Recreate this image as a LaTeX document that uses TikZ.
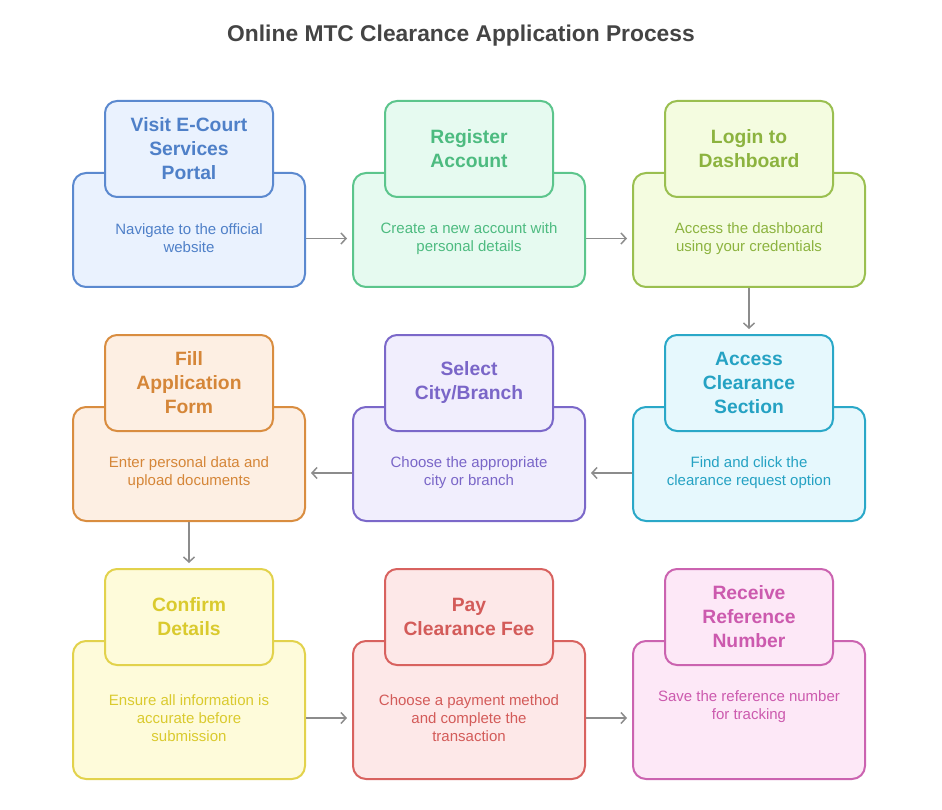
\documentclass[tikz,border=0pt]{standalone}
\usepackage{fontspec}
\setmainfont{Liberation Sans}
\usetikzlibrary{arrows.meta}
\definecolor{bS}{HTML}{5B89CF}\definecolor{bF}{HTML}{EAF2FE}\definecolor{bT}{HTML}{4F80C8}
\definecolor{gS}{HTML}{5CC58C}\definecolor{gF}{HTML}{E6FAF0}\definecolor{gT}{HTML}{4DBB80}
\definecolor{lS}{HTML}{9ABF50}\definecolor{lF}{HTML}{F4FCE0}\definecolor{lT}{HTML}{8CB33F}
\definecolor{cS}{HTML}{2AA8C8}\definecolor{cF}{HTML}{E6F8FD}\definecolor{cT}{HTML}{25A2C3}
\definecolor{pS}{HTML}{7B68C9}\definecolor{pF}{HTML}{F1EEFD}\definecolor{pT}{HTML}{7A66C8}
\definecolor{oS}{HTML}{D98D40}\definecolor{oF}{HTML}{FDEFE3}\definecolor{oT}{HTML}{D58638}
\definecolor{yS}{HTML}{E2D24C}\definecolor{yF}{HTML}{FEFBDA}\definecolor{yT}{HTML}{DACA2E}
\definecolor{rS}{HTML}{D8625F}\definecolor{rF}{HTML}{FDE8E8}\definecolor{rT}{HTML}{D35B59}
\definecolor{mS}{HTML}{CB63B0}\definecolor{mF}{HTML}{FDE8F7}\definecolor{mT}{HTML}{CC5AAE}
\definecolor{arrowgray}{HTML}{8C8C8C}
\definecolor{headgray}{HTML}{444444}
\tikzset{
  outerbox/.style={draw, rounded corners=13pt, line width=2pt, minimum width=232pt, inner sep=0pt},
  titlebox/.style={draw, rounded corners=12pt, line width=2pt, minimum width=168pt, minimum height=96pt,
    inner sep=0pt, align=center, font=\fontsize{19.3}{24}\selectfont\bfseries},
  desc/.style={align=center, inner sep=0pt, font=\fontsize{15}{18}\selectfont},
  blueset/.style={draw=bS, fill=bF, text=bT},
  greenset/.style={draw=gS, fill=gF, text=gT},
  limeset/.style={draw=lS, fill=lF, text=lT},
  cyanset/.style={draw=cS, fill=cF, text=cT},
  purpleset/.style={draw=pS, fill=pF, text=pT},
  orangeset/.style={draw=oS, fill=oF, text=oT},
  yellowset/.style={draw=yS, fill=yF, text=yT},
  redset/.style={draw=rS, fill=rF, text=rT},
  pinkset/.style={draw=mS, fill=mF, text=mT},
  flow/.style={draw=arrowgray, line width=1.5pt, -{Straight Barb[length=5pt,width=11pt]}, shorten >=5pt},
}
\begin{document}
\begin{tikzpicture}[x=1pt,y=-1pt]
\useasboundingbox (0,0) rectangle (942,810);
\node[font=\fontsize{22.8}{28}\selectfont\bfseries, text=headgray] (head) at (461,36) {Online MTC Clearance Application Process};
% row 1
\node[outerbox, blueset, minimum height=114pt] (o1) at (189,230) {};
\node[titlebox, blueset] (t1) at (189,149) {Visit E-Court\\Services\\Portal};
\node[desc, text=bT] (d1) at (189,238.5) {Navigate to the official\\website};
\node[outerbox, greenset, minimum height=114pt] (o2) at (469,230) {};
\node[titlebox, greenset] (t2) at (469,149) {Register\\Account};
\node[desc, text=gT] (d2) at (469,238.5) {Create a new account with\\personal details};
\node[outerbox, limeset, minimum height=114pt] (o3) at (749,230) {};
\node[titlebox, limeset] (t3) at (749,149) {Login to\\Dashboard};
\node[desc, text=lT] (d3) at (749,238.5) {Access the dashboard\\using your credentials};
% row 2
\node[outerbox, orangeset, minimum height=114pt] (o4) at (189,464) {};
\node[titlebox, orangeset] (t4) at (189,383) {Fill\\Application\\Form};
\node[desc, text=oT] (d4) at (189,473) {Enter personal data and\\upload documents};
\node[outerbox, purpleset, minimum height=114pt] (o5) at (469,464) {};
\node[titlebox, purpleset] (t5) at (469,383) {Select\\City/Branch};
\node[desc, text=pT] (d5) at (469,473) {Choose the appropriate\\city or branch};
\node[outerbox, cyanset, minimum height=114pt] (o6) at (749,464) {};
\node[titlebox, cyanset] (t6) at (749,383) {Access\\Clearance\\Section};
\node[desc, text=cT] (d6) at (749,473) {Find and click the\\clearance request option};
% row 3
\node[outerbox, yellowset, minimum height=138pt] (o7) at (189,710) {};
\node[titlebox, yellowset] (t7) at (189,617) {Confirm\\Details};
\node[desc, text=yT] (d7) at (189,718) {Ensure all information is\\accurate before\\submission};
\node[outerbox, redset, minimum height=138pt] (o8) at (469,710) {};
\node[titlebox, redset] (t8) at (469,617) {Pay\\Clearance Fee};
\node[desc, text=rT] (d8) at (469,718) {Choose a payment method\\and complete the\\transaction};
\node[outerbox, pinkset, minimum height=138pt] (o9) at (749,710) {};
\node[titlebox, pinkset] (t9) at (749,617) {Receive\\Reference\\Number};
\node[desc, text=mT] (d9) at (749,707) {Save the reference number\\for tracking};
% connectors
\draw[flow] (o1.east |- d1.center) -- (o2.west |- d1.center);
\draw[flow] (o2.east |- d2.center) -- (o3.west |- d2.center);
\draw[flow] (o3.south) -- (t6.north);
\draw[flow] (o6.west |- d6.center) -- (o5.east |- d6.center);
\draw[flow] (o5.west |- d5.center) -- (o4.east |- d5.center);
\draw[flow] (o4.south) -- (t7.north);
\draw[flow] (o7.east |- d7.center) -- (o8.west |- d7.center);
\draw[flow] (o8.east |- d8.center) -- (o9.west |- d8.center);
\end{tikzpicture}
\end{document}
